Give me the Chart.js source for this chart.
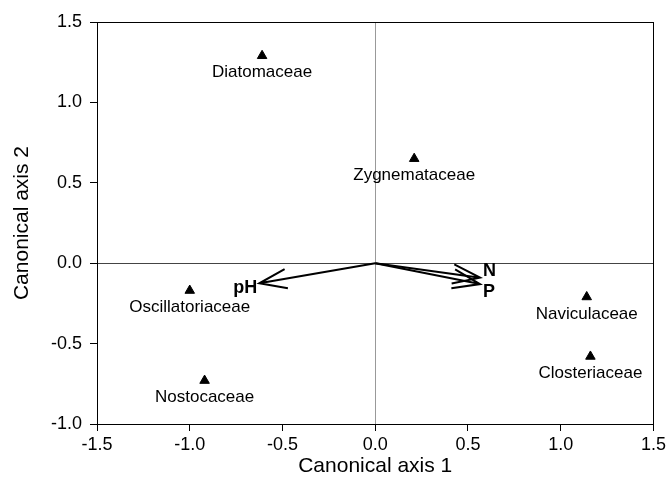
<!DOCTYPE html>
<html>
<head>
<meta charset="utf-8">
<script src="https://cdn.jsdelivr.net/npm/chart.js@4/dist/chart.umd.min.js"></script>
<style>
  html, body { margin: 0; padding: 0; background: #fff; }
  #wrap { width: 669px; height: 497px; }
</style>
</head>
<body>
<div id="wrap"><canvas id="cca"></canvas></div>
<script>
// taxa (species scores)
const taxa = ['Diatomaceae', 'Zygnemataceae', 'Oscillatoriaceae', 'Nostocaceae', 'Naviculaceae', 'Closteriaceae'];
const taxaX = [-0.61, 0.21, -1.00, -0.92, 1.14, 1.16];
const taxaY = [1.29, 0.65, -0.17, -0.73, -0.21, -0.58];

// environmental vectors
const envNames = ['pH', 'N', 'P'];
const envX = [-0.625, 0.565, 0.565];
const envY = [-0.125, -0.09, -0.13];

const xTicks = [-1.5, -1.0, -0.5, 0.0, 0.5, 1.0, 1.5];
const yTicks = [-1.0, -0.5, 0.0, 0.5, 1.0, 1.5];

const FONT = '"Liberation Sans", Arial, sans-serif';
const points = taxa.map((t, i) => ({ x: taxaX[i], y: taxaY[i] }));

const ordinationPlugin = {
    id: 'ordination',
    beforeDatasetsDraw(chart) {
        const { ctx, chartArea: a, scales } = chart;
        const x0 = scales.x.getPixelForValue(0);
        const y0 = scales.y.getPixelForValue(0);
        ctx.save();
        ctx.lineWidth = 1;
        ctx.strokeStyle = '#999';
        ctx.beginPath();
        ctx.moveTo(Math.round(x0) + 0.5, a.top);
        ctx.lineTo(Math.round(x0) + 0.5, a.bottom);
        ctx.stroke();
        ctx.strokeStyle = '#444';
        ctx.beginPath();
        ctx.moveTo(a.left, Math.round(y0) + 0.5);
        ctx.lineTo(a.right, Math.round(y0) + 0.5);
        ctx.stroke();
        // plot frame
        ctx.strokeStyle = '#000';
        ctx.strokeRect(Math.round(a.left) + 0.5, Math.round(a.top) + 0.5,
            Math.round(a.right - a.left), Math.round(a.bottom - a.top));

        // arrows
        ctx.lineWidth = 2;
        ctx.strokeStyle = '#000';
        envNames.forEach((n, i) => {
            const x1 = scales.x.getPixelForValue(envX[i]);
            const y1 = scales.y.getPixelForValue(envY[i]);
            const ang = Math.atan2(y1 - y0, x1 - x0);
            ctx.beginPath();
            ctx.moveTo(x0, y0);
            ctx.lineTo(x1, y1);
            ctx.moveTo(x1 - 29 * Math.cos(ang - 0.34), y1 - 29 * Math.sin(ang - 0.34));
            ctx.lineTo(x1, y1);
            ctx.lineTo(x1 - 29 * Math.cos(ang + 0.34), y1 - 29 * Math.sin(ang + 0.34));
            ctx.stroke();
        });
        ctx.restore();
    },
    afterDatasetsDraw(chart) {
        const { ctx, scales } = chart;
        ctx.save();
        ctx.fillStyle = '#000';
        ctx.textAlign = 'center';
        ctx.textBaseline = 'middle';
        ctx.font = '17px ' + FONT;
        taxa.forEach((t, i) => {
            const px = scales.x.getPixelForValue(taxaX[i]);
            const py = scales.y.getPixelForValue(taxaY[i]);
            ctx.fillText(t, px, py + 17);
        });
        ctx.font = 'bold 18px ' + FONT;
        envNames.forEach((n, i) => {
            const px = scales.x.getPixelForValue(envX[i]);
            const py = scales.y.getPixelForValue(envY[i]);
            if (envX[i] < 0) {
                ctx.textAlign = 'right';
                ctx.fillText(n, px - 2, py + 5);
            } else {
                ctx.textAlign = 'left';
                ctx.fillText(n, px + 3, py + (n === 'N' ? -7 : 8));
            }
        });
        ctx.restore();
    }
};

new Chart(document.getElementById('cca'), {
    type: 'scatter',
    data: {
        datasets: [{
            data: points,
            pointStyle: 'triangle',
            pointRadius: 5.5,
            backgroundColor: '#000',
            borderColor: '#000',
            borderWidth: 1
        }]
    },
    options: {
        responsive: true,
        maintainAspectRatio: false,
        animation: false,
        layout: { padding: { top: 22, right: 13, left: 0, bottom: 0 } },
        plugins: { legend: { display: false }, tooltip: { enabled: false } },
        scales: {
            x: {
                type: 'linear',
                min: -1.5, max: 1.5,
                afterBuildTicks: s => { s.ticks = xTicks.map(v => ({ value: v })); },
                afterFit: s => { s.height = 73; },
                grid: { drawOnChartArea: false, drawTicks: true, tickLength: 7, color: '#000' },
                border: { display: true, color: '#000' },
                ticks: {
                    color: '#000',
                    padding: 3,
                    font: { family: FONT, size: 18 },
                    callback: v => v.toFixed(1)
                },
                title: {
                    display: true,
                    text: 'Canonical axis 1',
                    color: '#000',
                    padding: { top: 0, bottom: 18 },
                    font: { family: FONT, size: 21 }
                }
            },
            y: {
                type: 'linear',
                min: -1.0, max: 1.5,
                afterBuildTicks: s => { s.ticks = yTicks.map(v => ({ value: v })); },
                afterFit: s => { s.width = 97; },
                grid: { drawOnChartArea: false, drawTicks: true, tickLength: 7, color: '#000' },
                border: { display: true, color: '#000' },
                ticks: {
                    color: '#000',
                    padding: 8,
                    font: { family: FONT, size: 18 },
                    callback: v => v.toFixed(1)
                },
                title: {
                    display: true,
                    text: 'Canonical axis 2',
                    color: '#000',
                    padding: { top: 10, bottom: 0 },
                    font: { family: FONT, size: 21 }
                }
            }
        }
    },
    plugins: [ordinationPlugin]
});
</script>
</body>
</html>
